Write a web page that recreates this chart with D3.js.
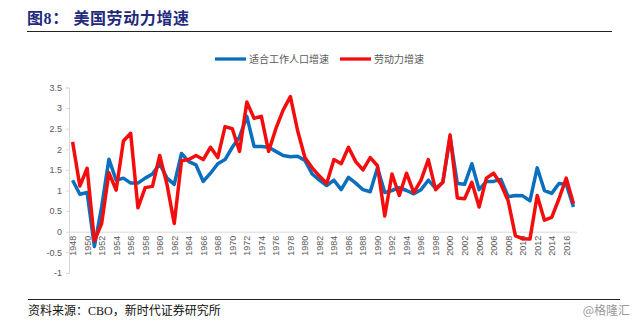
<!DOCTYPE html>
<html>
<head>
<meta charset="utf-8">
<script src="https://cdn.jsdelivr.net/npm/d3@7"></script>
<style>
body { margin: 0; background: #fff; }
svg { display: block; }
</style>
</head>
<body>
<div id="chart"></div>
<script>
// 年份 1948-2017
var years = d3.range(1948, 2018);
var yTicks = [-1, -0.5, 0, 0.5, 1, 1.5, 2, 2.5, 3, 3.5];
var seriesNames = ["适合工作人口增速", "劳动力增速"];
var seriesColors = ["#0b6fbd", "#f40d0d"];

// 适合工作人口增速
var workingAge = [
	1.25, 0.91, 0.95, -0.36, 0.6, 1.76, 1.25, 1.3, 1.18, 1.18,
	1.3, 1.4, 1.65, 1.3, 1.15, 1.9, 1.7, 1.62, 1.22, 1.42,
	1.65, 1.75, 2.05, 2.3, 2.8, 2.07, 2.07, 2.05, 1.95, 1.85,
	1.82, 1.83, 1.73, 1.4, 1.25, 1.12, 1.25, 1.02, 1.32, 1.18,
	1.02, 0.97, 1.55, 0.95, 1.0, 1.07, 1.0, 0.92, 1.02, 1.25,
	1.05, 1.2, 2.3, 1.17, 1.15, 1.65, 1.02, 1.22, 1.22, 1.27,
	0.85, 0.88, 0.87, 0.75, 1.55, 1.0, 0.93, 1.17, 1.15, 0.6
];
// 劳动力增速
var laborForce = [
	2.18, 1.11, 1.54, -0.22, 0.2, 1.43, 1.01, 2.2, 2.39, 0.58,
	1.07, 1.1, 1.85, 1.15, 0.2, 1.72, 1.75, 1.85, 1.75, 2.05,
	1.8, 2.55, 2.5, 1.95, 3.15, 2.75, 2.8, 1.95, 2.5, 2.95,
	3.28, 2.45, 1.8, 1.55, 1.35, 1.17, 1.75, 1.65, 2.05, 1.7,
	1.5, 1.8, 1.6, 0.38, 1.4, 0.88, 1.42, 0.95, 1.25, 1.75,
	1.02, 1.2, 2.35, 0.82, 0.8, 1.2, 0.6, 1.3, 1.42, 1.15,
	0.75, -0.1, -0.17, -0.18, 0.88, 0.28, 0.35, 0.8, 1.3, 0.68
];

var W = 636, H = 322;
var svg = d3.select("#chart").append("svg")
	.attr("width", W)
	.attr("height", H);

// 标题
svg.append("text")
	.attr("x", 27)
	.attr("y", 24)
	.attr("fill", "#1f2a7c")
	.attr("font-family", "'Liberation Serif', 'Noto Sans CJK SC', serif")
	.attr("font-weight", "bold")
	.attr("font-size", 16)
	.attr("letter-spacing", 0.6)
	.text("图8：  美国劳动力增速");
svg.append("line")
	.attr("x1", 27).attr("x2", 612)
	.attr("y1", 31.5).attr("y2", 31.5)
	.attr("stroke", "#222").attr("stroke-width", 1.2);

var x = d3.scalePoint()
	.domain(years)
	.range([72.6, 573.5]);
var y = d3.scaleLinear()
	.domain([-1, 3.5])
	.range([272.9, 87.5]);

// y 轴
var yAxis = svg.append("g")
	.attr("transform", "translate(69,0)")
	.call(d3.axisLeft(y).tickValues(yTicks).tickSize(3).tickPadding(4)
		.tickFormat(function(d) { return String(d); }));
yAxis.select(".domain").attr("stroke", "#d9d9d9");
yAxis.selectAll(".tick line").attr("stroke", "#d9d9d9");
yAxis.selectAll("text")
	.attr("fill", "#595959")
	.attr("font-family", "'Liberation Sans', Arial, sans-serif")
	.attr("font-size", 9);

// x 轴 (在 0 处)
var xAxis = svg.append("g")
	.attr("transform", "translate(0," + y(0) + ")")
	.call(d3.axisBottom(x)
		.tickValues(years.filter(function(d) { return d % 2 == 0; }))
		.tickSize(0).tickPadding(3));
xAxis.select(".domain")
	.attr("d", "M69,0.5H577")
	.attr("stroke", "#d9d9d9");
xAxis.selectAll("text")
	.attr("fill", "#595959")
	.attr("font-family", "'Liberation Sans', Arial, sans-serif")
	.attr("font-size", 9)
	.attr("text-anchor", "end")
	.attr("dy", "0.32em")
	.attr("transform", "rotate(-90) translate(-4,0)")
	.attr("x", 0).attr("y", 0);

// 线
var line = d3.line()
	.x(function(d, i) { return x(years[i]); })
	.y(function(d) { return y(d); });

[workingAge, laborForce].forEach(function(s, k) {
	svg.append("path")
		.datum(s)
		.attr("d", line)
		.attr("fill", "none")
		.attr("stroke", seriesColors[k])
		.attr("stroke-width", 3.5)
		.attr("stroke-linejoin", "round");
});

// 图例
var legendX = [215, 340];
seriesNames.forEach(function(name, k) {
	var g = svg.append("g").attr("transform", "translate(" + legendX[k] + ",59)");
	g.append("line")
		.attr("x1", 0).attr("x2", 31)
		.attr("stroke", seriesColors[k])
		.attr("stroke-width", 3.3);
	g.append("text")
		.attr("x", 34)
		.attr("dy", "0.35em")
		.attr("fill", "#595959")
		.attr("font-family", "'Noto Sans CJK SC', sans-serif")
		.attr("font-size", 10)
		.text(name);
});

// 底部
svg.append("line")
	.attr("x1", 28).attr("x2", 620)
	.attr("y1", 299.5).attr("y2", 299.5)
	.attr("stroke", "#222").attr("stroke-width", 1);
svg.append("text")
	.attr("x", 28)
	.attr("y", 315)
	.attr("fill", "#111")
	.attr("font-family", "'Liberation Serif', 'Noto Sans CJK SC', serif")
	.attr("font-size", 12)
	.text("资料来源：CBO，新时代证券研究所");
svg.append("text")
	.attr("x", 630)
	.attr("y", 315)
	.attr("text-anchor", "end")
	.attr("fill", "#9a9a9a")
	.attr("font-family", "'Noto Sans CJK SC', sans-serif")
	.attr("font-size", 12)
	.text("@格隆汇");
</script>
</body>
</html>
